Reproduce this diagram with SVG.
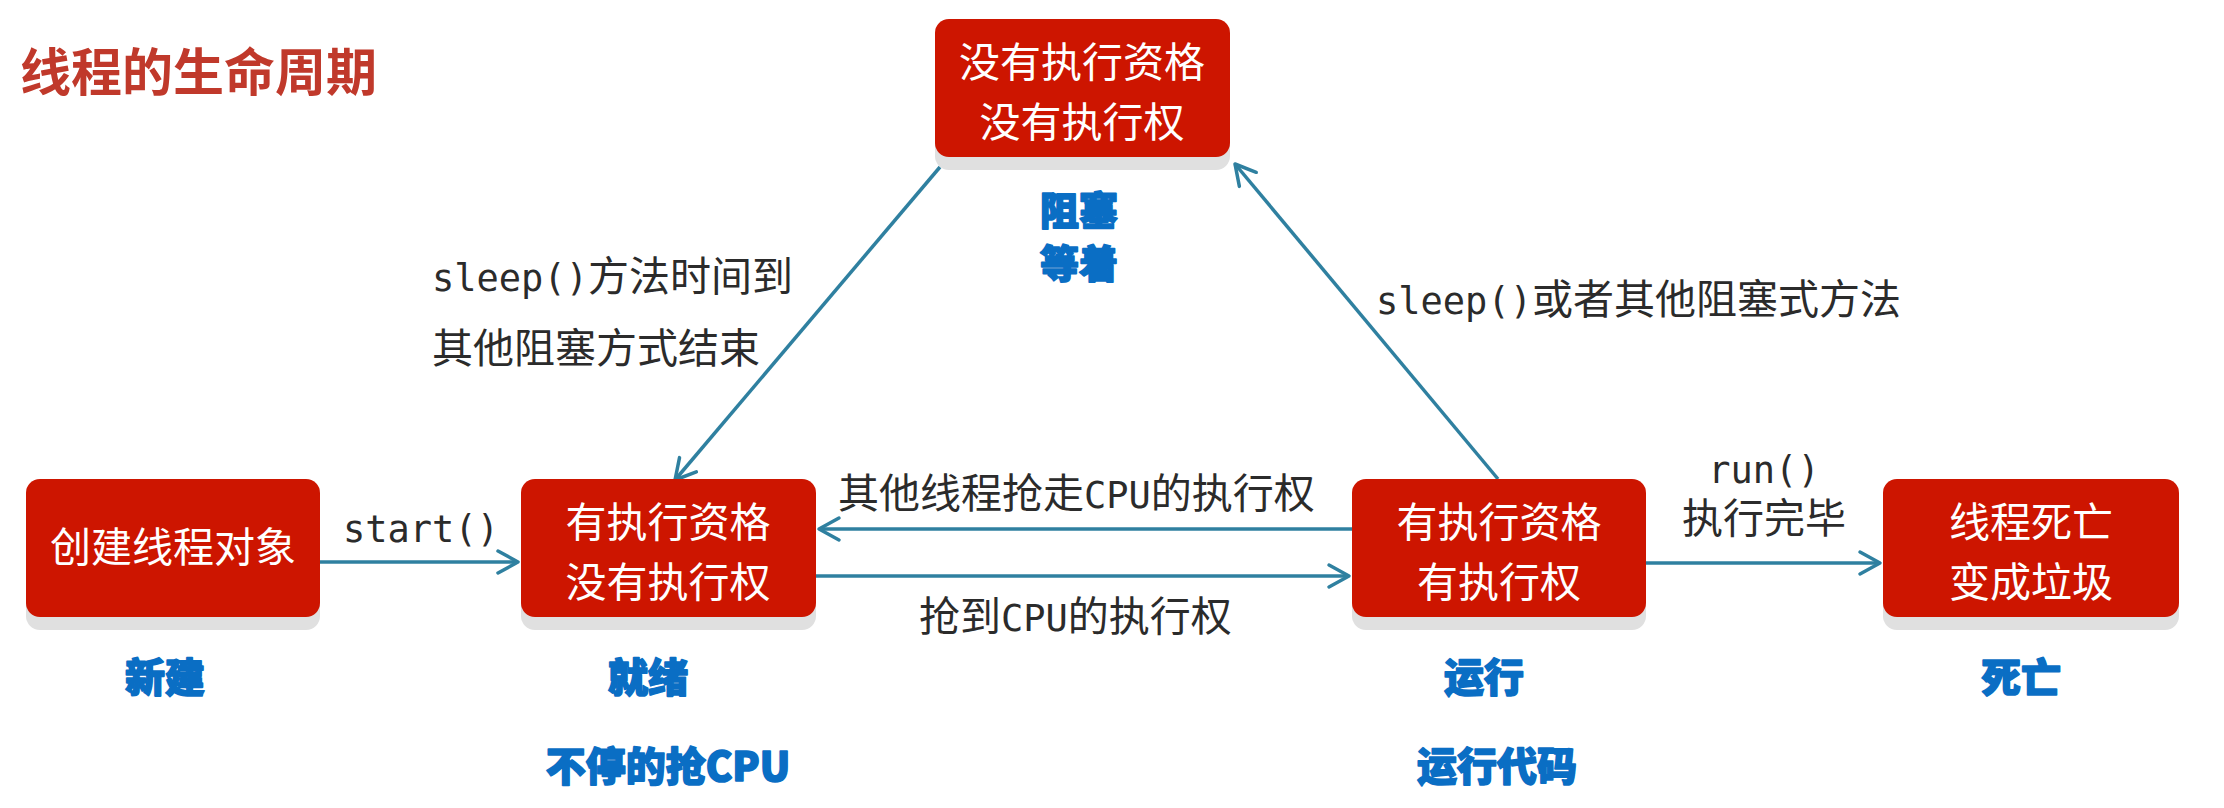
<svg xmlns="http://www.w3.org/2000/svg" width="2224" height="808" viewBox="0 0 2224 808">
<defs>
<style>
.shadow{fill:#e0e0e0}
.box{fill:#cd1500}
.bt{fill:#ffffff;font-family:"Noto Sans CJK SC","Noto Sans",sans-serif;font-size:41px;text-anchor:middle}
.lab{fill:#0a6ec4;stroke:#0a6ec4;stroke-width:1.6px;stroke-linejoin:round;font-family:"Noto Sans CJK SC",sans-serif;font-weight:900;font-size:40px;text-anchor:middle}
.el{fill:#2b2b2b;font-family:"DejaVu Sans Mono","Noto Sans CJK SC",monospace;font-size:41px}
.m{font-family:"DejaVu Sans Mono",monospace;font-size:37px}
.c{fill:none;stroke:#2f80a0;stroke-width:3.5px;marker-end:url(#ah)}
.title{fill:#c0392b;font-family:"Noto Sans CJK SC",sans-serif;font-weight:700;font-size:51px}
</style>
<marker id="ah" markerUnits="userSpaceOnUse" viewBox="-24 -14 27 28" markerWidth="27" markerHeight="28" refX="0" refY="0" orient="auto">
<path d="M-20,-11 L0,0 L-20,11" fill="none" stroke="#2f80a0" stroke-width="3.5" stroke-linecap="round" stroke-linejoin="round"/>
</marker>
</defs>
<rect width="2224" height="808" fill="#ffffff"/>
<text class="title" x="20" y="91">线程的生命周期</text>

<g id="connectors">
<line class="c" x1="320" y1="562" x2="518" y2="562"/>
<line class="c" x1="1352" y1="529" x2="819" y2="529"/>
<line class="c" x1="816" y1="576" x2="1349" y2="576"/>
<line class="c" x1="1646" y1="563" x2="1880" y2="563"/>
<line class="c" x1="940" y1="167" x2="675" y2="480"/>
<line class="c" x1="1498" y1="479" x2="1235" y2="164"/>
<text class="el" x="343" y="542"><tspan class="m">start()</tspan></text>
<text class="el" x="432" y="291"><tspan class="m">sleep()</tspan>方法时间到</text>
<text class="el" x="432" y="363">其他阻塞方式结束</text>
<text class="el" x="1376" y="314"><tspan class="m">sleep()</tspan>或者其他阻塞式方法</text>
<text class="el" x="838" y="508">其他线程抢走<tspan class="m">CPU</tspan>的执行权</text>
<text class="el" x="919" y="631">抢到<tspan class="m">CPU</tspan>的执行权</text>
<text class="el" x="1764" y="483" text-anchor="middle"><tspan class="m">run()</tspan></text>
<text class="el" x="1764" y="533" text-anchor="middle">执行完毕</text>
</g>

<g id="node-new">
<rect class="shadow" x="26" y="492" width="294" height="138" rx="14"/>
<rect class="box" x="26" y="479" width="294" height="138" rx="14"/>
<text class="bt" x="173" y="562">创建线程对象</text>
<text class="lab" x="165" y="692">新建</text>
</g>

<g id="node-ready">
<rect class="shadow" x="521" y="492" width="295" height="138" rx="14"/>
<rect class="box" x="521" y="479" width="295" height="138" rx="14"/>
<text class="bt" x="668" y="537">有执行资格</text>
<text class="bt" x="668" y="597">没有执行权</text>
<text class="lab" x="648" y="692">就绪</text>
<text class="lab" x="668" y="781">不停的抢CPU</text>
</g>

<g id="node-running">
<rect class="shadow" x="1352" y="492" width="294" height="138" rx="14"/>
<rect class="box" x="1352" y="479" width="294" height="138" rx="14"/>
<text class="bt" x="1499" y="537">有执行资格</text>
<text class="bt" x="1499" y="597">有执行权</text>
<text class="lab" x="1484" y="692">运行</text>
<text class="lab" x="1497" y="781">运行代码</text>
</g>

<g id="node-dead">
<rect class="shadow" x="1883" y="492" width="296" height="138" rx="14"/>
<rect class="box" x="1883" y="479" width="296" height="138" rx="14"/>
<text class="bt" x="2031" y="537">线程死亡</text>
<text class="bt" x="2031" y="597">变成垃圾</text>
<text class="lab" x="2021" y="692">死亡</text>
</g>

<g id="node-blocked">
<rect class="shadow" x="935" y="32" width="295" height="138" rx="14"/>
<rect class="box" x="935" y="19" width="295" height="138" rx="14"/>
<text class="bt" x="1082" y="77">没有执行资格</text>
<text class="bt" x="1082" y="137">没有执行权</text>
<text class="lab" x="1079" y="225" style="font-size:39px">阻塞</text>
<text class="lab" x="1079" y="278" style="font-size:39px">等着</text>
</g>
</svg>
